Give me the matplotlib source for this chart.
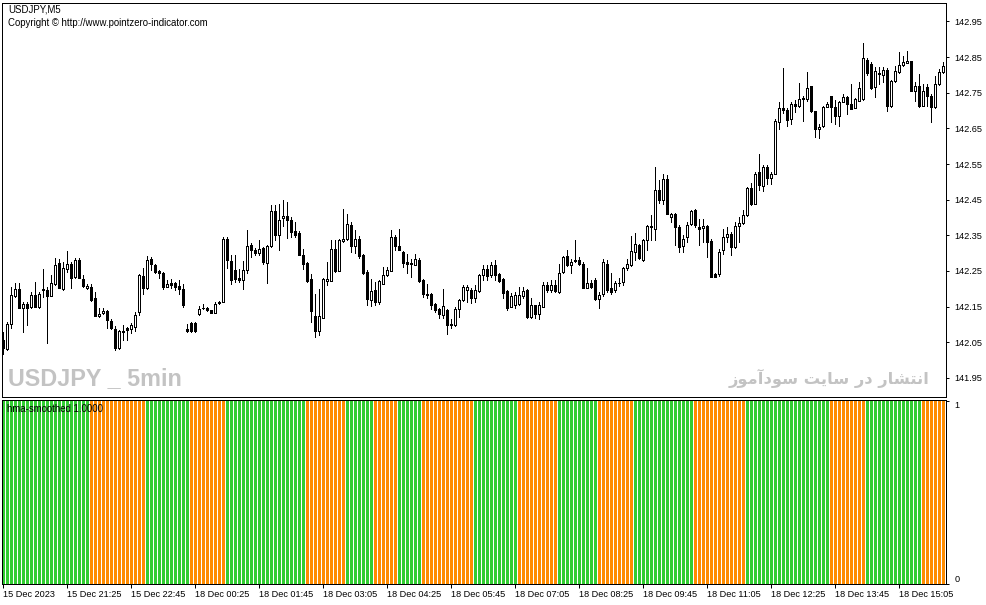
import numpy as np
import matplotlib
matplotlib.use("Agg")
import matplotlib.pyplot as plt

# ---------------- data ----------------
opens = [
 142.056,142.031,142.101,142.181,142.200,142.147,142.158,142.149,142.184,142.149,
 142.198,142.198,142.181,142.213,142.272,142.199,142.255,142.270,142.234,142.282,
 142.228,142.203,142.206,142.174,142.123,142.131,142.137,142.109,142.088,142.034,
 142.080,142.090,142.087,142.094,142.136,142.235,142.203,142.283,142.266,142.249,
 142.244,142.206,142.216,142.216,142.209,142.200,142.088,142.105,142.105,142.128,
 142.146,142.147,142.140,142.133,142.161,142.164,142.340,142.277,142.252,142.230,
 142.226,142.254,142.322,142.310,142.300,142.315,142.273,142.319,142.417,142.350,
 142.400,142.403,142.394,142.361,142.357,142.296,142.273,142.228,142.123,142.083,
 142.119,142.223,142.223,142.312,142.251,142.333,142.340,142.378,142.321,142.340,
 142.294,142.248,142.170,142.196,142.164,142.214,142.238,142.251,142.346,142.319,
 142.304,142.276,142.269,142.267,142.282,142.224,142.186,142.185,142.157,142.142,
 142.126,142.140,142.099,142.098,142.142,142.168,142.198,142.196,142.174,142.193,
 142.240,142.256,142.240,142.268,142.242,142.227,142.193,142.150,142.154,142.157,
 142.181,142.196,142.122,142.154,142.128,142.150,142.212,142.196,142.210,142.192,
 142.246,142.291,142.268,142.282,142.282,142.271,142.203,142.215,142.224,142.171,
 142.185,142.269,142.202,142.196,142.216,142.220,142.257,142.266,142.303,142.322,
 142.280,142.336,142.373,142.369,142.478,142.450,142.509,142.401,142.411,142.373,
 142.319,142.344,142.381,142.422,142.373,142.371,142.375,142.334,142.241,142.241,
 142.310,142.345,142.355,142.316,142.375,142.385,142.406,142.484,142.439,142.528,
 142.487,142.543,142.512,142.523,142.668,142.708,142.702,142.677,142.717,142.714,
 142.733,142.733,142.768,142.698,142.649,142.658,142.711,142.740,142.710,142.684,
 142.724,142.738,142.719,142.707,142.728,142.731,142.843,142.831,142.766,142.806,
 142.800,142.815,142.712,142.784,142.808,142.828,142.834,142.838,142.756,142.770,
 142.714,142.766,142.742,142.710,142.775,142.808]
highs = [
 142.078,142.106,142.205,142.216,142.216,142.163,142.163,142.191,142.219,142.191,
 142.255,142.205,142.238,142.286,142.283,142.276,142.305,142.275,142.286,142.286,
 142.238,142.213,142.213,142.192,142.147,142.147,142.140,142.115,142.095,142.084,
 142.099,142.094,142.104,142.135,142.241,142.258,142.291,142.290,142.270,142.252,
 142.248,142.224,142.228,142.219,142.224,142.214,142.102,142.106,142.106,142.153,
 142.157,142.150,142.141,142.164,142.165,142.345,142.345,142.294,142.294,142.256,
 142.277,142.364,142.329,142.314,142.338,142.318,142.322,142.434,142.434,142.438,
 142.448,142.444,142.402,142.388,142.361,142.312,142.274,142.242,142.185,142.200,
 142.230,142.276,142.336,142.336,142.339,142.423,142.410,142.388,142.364,142.347,
 142.297,142.252,142.228,142.220,142.224,142.262,142.262,142.364,142.350,142.368,
 142.305,142.298,142.284,142.298,142.286,142.227,142.214,142.188,142.160,142.146,
 142.200,142.143,142.116,142.149,142.171,142.210,142.210,142.201,142.210,142.241,
 142.266,142.266,142.276,142.280,142.244,142.230,142.196,142.187,142.192,142.206,
 142.206,142.199,142.173,142.156,142.164,142.218,142.220,142.224,142.224,142.271,
 142.292,142.308,142.285,142.336,142.289,142.275,142.257,142.224,142.229,142.191,
 142.285,142.280,142.244,142.221,142.229,142.262,142.283,142.347,142.357,142.327,
 142.341,142.378,142.406,142.542,142.504,142.521,142.518,142.414,142.414,142.378,
 142.350,142.387,142.422,142.424,142.397,142.397,142.378,142.341,142.243,142.311,
 142.369,142.373,142.358,142.387,142.401,142.420,142.486,142.497,142.527,142.577,
 142.546,142.546,142.528,142.675,142.724,142.820,142.706,142.723,142.730,142.777,
 142.740,142.808,142.770,142.700,142.661,142.714,142.723,142.742,142.730,142.728,
 142.747,142.742,142.775,142.734,142.780,142.890,142.846,142.836,142.822,142.822,
 142.822,142.818,142.787,142.826,142.864,142.852,142.868,142.839,142.780,142.803,
 142.775,142.775,142.745,142.798,142.817,142.836]
lows = [
 142.017,142.028,142.090,142.177,142.146,142.080,142.098,142.146,142.149,142.146,
 142.177,142.048,142.179,142.210,142.202,142.196,142.248,142.202,142.230,142.230,
 142.205,142.199,142.165,142.123,142.121,142.129,142.090,142.087,142.028,142.031,
 142.056,142.056,142.076,142.083,142.126,142.185,142.200,142.252,142.244,142.230,
 142.199,142.205,142.202,142.196,142.185,142.150,142.080,142.080,142.080,142.126,
 142.143,142.137,142.132,142.132,142.158,142.163,142.258,142.213,142.220,142.219,
 142.199,142.244,142.290,142.294,142.294,142.269,142.216,142.317,142.336,142.308,
 142.375,142.342,142.346,142.346,142.294,142.256,142.219,142.108,142.066,142.070,
 142.118,142.210,142.221,142.247,142.249,142.331,142.336,142.304,142.300,142.287,
 142.241,142.154,142.151,142.154,142.158,142.213,142.235,142.249,142.310,142.308,
 142.262,142.244,142.234,142.266,142.219,142.177,142.174,142.144,142.136,142.118,
 142.118,142.073,142.090,142.097,142.122,142.165,142.164,142.159,142.164,142.192,
 142.224,142.224,142.234,142.224,142.219,142.174,142.140,142.149,142.147,142.155,
 142.174,142.117,142.117,142.117,142.114,142.149,142.191,142.191,142.191,142.187,
 142.243,142.264,142.243,142.275,142.268,142.202,142.202,142.202,142.170,142.145,
 142.179,142.191,142.185,142.191,142.209,142.210,142.252,142.263,142.280,142.284,
 142.278,142.310,142.336,142.336,142.441,142.439,142.409,142.387,142.322,142.304,
 142.304,142.331,142.378,142.373,142.322,142.331,142.289,142.232,142.232,142.235,
 142.299,142.331,142.294,142.314,142.331,142.382,142.405,142.434,142.437,142.478,
 142.474,142.493,142.493,142.521,142.649,142.692,142.658,142.663,142.696,142.711,
 142.672,142.728,142.696,142.626,142.624,142.655,142.709,142.668,142.663,142.658,
 142.723,142.691,142.703,142.706,142.727,142.730,142.800,142.761,142.738,142.775,
 142.780,142.700,142.710,142.781,142.805,142.826,142.832,142.754,142.728,142.711,
 142.712,142.712,142.668,142.707,142.773,142.805]
closes = [
 142.034,142.101,142.182,142.200,142.147,142.158,142.147,142.184,142.150,142.186,
 142.199,142.181,142.217,142.268,142.203,142.258,142.270,142.230,142.282,142.231,
 142.209,142.207,142.168,142.125,142.130,142.137,142.112,142.091,142.035,142.081,
 142.081,142.084,142.098,142.126,142.238,142.203,142.280,142.270,142.248,142.245,
 142.206,142.214,142.210,142.205,142.199,142.156,142.081,142.081,142.081,142.143,
 142.147,142.140,142.133,142.158,142.163,142.340,142.280,142.224,142.228,142.224,
 142.254,142.319,142.310,142.300,142.312,142.276,142.319,142.417,142.350,142.394,
 142.403,142.392,142.360,142.350,142.296,142.270,142.223,142.139,142.083,142.123,
 142.228,142.228,142.312,142.251,142.336,142.340,142.382,142.321,142.340,142.291,
 142.243,142.172,142.193,142.164,142.223,142.238,142.254,142.346,142.319,142.310,
 142.273,142.270,142.273,142.284,142.223,142.185,142.182,142.154,142.140,142.130,
 142.151,142.098,142.101,142.144,142.168,142.205,142.205,142.173,142.196,142.240,
 142.256,142.237,142.268,142.240,142.221,142.188,142.147,142.180,142.182,142.184,
 142.193,142.122,142.156,142.128,142.154,142.212,142.196,142.210,142.193,142.243,
 142.288,142.268,142.275,142.277,142.271,142.203,142.215,142.205,142.171,142.184,
 142.275,142.196,142.191,142.217,142.217,142.257,142.269,142.306,142.325,142.287,
 142.338,142.375,142.375,142.478,142.448,142.509,142.411,142.411,142.372,142.317,
 142.341,142.380,142.418,142.378,142.369,142.375,142.331,142.233,142.233,142.303,
 142.345,142.355,142.316,142.375,142.385,142.406,142.484,142.439,142.523,142.490,
 142.543,142.512,142.523,142.672,142.708,142.702,142.674,142.717,142.714,142.733,
 142.734,142.764,142.698,142.649,142.655,142.711,142.719,142.710,142.686,142.725,
 142.738,142.719,142.705,142.731,142.763,142.848,142.806,142.763,142.810,142.803,
 142.815,142.712,142.784,142.810,142.828,142.836,142.838,142.756,142.770,142.714,
 142.754,142.740,142.710,142.775,142.808,142.826]

# hma-smoothed direction per bar: G = rising (green), O = falling (orange)
hma_trend = (
    "GGGGG" "GGGGG" "GGGGG" "GGGGG" "GG"            # 22
    "OOOOO" "OOOOO" "OOOO"                          # 14
    "GGGGG" "GGGGG" "G"                             # 11
    "OOOOO" "OOOO"                                  # 9
    "GGGGG" "GGGGG" "GGGGG" "GGGGG"                 # 20
    "OOOOO" "OOOOO"                                 # 10
    "GGGGG" "GG"                                    # 7
    "OOOOO" "O"                                     # 6
    "GGGGG" "G"                                     # 6
    "OOOOO" "OOOOO" "OOO"                           # 13
    "GGGGG" "GGGGG" "G"                             # 11
    "OOOOO" "OOOOO"                                 # 10
    "GGGGG" "GGGGG"                                 # 10
    "OOOOO" "OOOO"                                  # 9
    "GGGGG" "GGGGG" "GGGGG"                         # 15
    "OOOOO" "OOOOO" "OOO"                           # 13
    "GGGGG" "GGGGG" "GGGGG" "GGGGG" "G"             # 21
    "OOOOO" "OOOO"                                  # 9
    "GGGGG" "GGGGG" "GGGG"                          # 14
    "OOOOO" "O"                                     # 6
)
hma_level = 1.0

price_ticks = [141.95, 142.05, 142.15, 142.25, 142.35, 142.45, 142.55,
               142.65, 142.75, 142.85, 142.95]
time_labels = ["15 Dec 2023", "15 Dec 21:25", "15 Dec 22:45", "18 Dec 00:25",
               "18 Dec 01:45", "18 Dec 03:05", "18 Dec 04:25", "18 Dec 05:45",
               "18 Dec 07:05", "18 Dec 08:25", "18 Dec 09:45", "18 Dec 11:05",
               "18 Dec 12:25", "18 Dec 13:45", "18 Dec 15:05"]
time_label_bars = [0, 16, 32, 48, 64, 80, 96, 112, 128, 144, 160, 176, 192, 208, 224]

# ---------------- figure ----------------
W, H = 987, 605
fig = plt.figure(figsize=(W / 100, H / 100), dpi=100)
fig.patch.set_facecolor("white")

def rect(x0, y0, x1, y1):
    return [x0 / W, 1 - y1 / H, (x1 - x0) / W, (y1 - y0) / H]

FONT = ["Liberation Sans", "DejaVu Sans"]
FS = 6.6
FS_HEAD = 6.9
PX = 0.72  # one pixel in points

ax = fig.add_axes(rect(2.5, 2.5, 946.5, 396.5))
ax2 = fig.add_axes(rect(2.5, 399.5, 946.5, 583.5), sharex=ax)

O = np.array(opens); Hh = np.array(highs); L = np.array(lows); C = np.array(closes)
n = len(O)
x = np.arange(n)

ax.vlines(x, L, Hh, color="black", linewidth=PX, antialiased=False, zorder=2)
up = C >= O
ax.bar(x, np.abs(C - O), bottom=np.minimum(O, C), width=0.5,
       color=np.where(up, "white", "black"), edgecolor="black",
       linewidth=PX, antialiased=False, zorder=3)

ax.set_xlim(-0.25, 235.75)
ax.set_ylim(141.898, 143.003)
ax.yaxis.tick_right()
ax.set_yticks(price_ticks)
ax.set_yticklabels([f"{v:.2f}" for v in price_ticks], fontfamily=FONT, fontsize=FS)
ax.tick_params(axis="y", direction="out", length=2.5, width=PX, pad=3,
               colors="black")
ax.tick_params(axis="x", which="both", bottom=False, labelbottom=False)
for s in ax.spines.values():
    s.set_linewidth(PX)
    s.set_color("black")

colors = ["#32CD32" if t == "G" else "#FF8C00" for t in hma_trend]
ax2.bar(x, [hma_level] * n, width=0.75, bottom=0, color=colors, linewidth=0,
        antialiased=False)
ax2.set_ylim(0, 1.01)
ax2.yaxis.tick_right()
ax2.set_yticks([0, 1])
ax2.set_yticklabels(["0", "1"], fontfamily=FONT, fontsize=FS)
labs = ax2.get_yticklabels()
labs[0].set_va("bottom")
labs[1].set_va("top")
ax2.tick_params(axis="y", direction="out", length=2.5, width=PX, pad=3)
ax2.set_xticks(time_label_bars)
ax2.set_xticklabels(time_labels, fontfamily=FONT, fontsize=FS, ha="left")
ax2.tick_params(axis="x", direction="out", length=3, width=PX, pad=2)
for s in ax2.spines.values():
    s.set_linewidth(PX)
    s.set_color("black")

# header texts
fig.text(8 / W, 1 - 10 / H, "USDJPY,M5", fontfamily=FONT, fontsize=FS_HEAD,
         va="center", ha="left")
fig.text(8 / W, 1 - 23 / H, "Copyright \u00a9 http://www.pointzero-indicator.com",
         fontfamily=FONT, fontsize=FS_HEAD, va="center", ha="left")
fig.text(7 / W, 1 - 408.5 / H, "hma-smoothed 1.0000", fontfamily=FONT,
         fontsize=FS_HEAD, va="center", ha="left")

# watermarks
fig.text(8 / W, 1 - 379 / H, "USDJPY _ 5min",
         fontfamily=["Liberation Sans", "DejaVu Sans"],
         fontweight="bold", fontsize=16.8, color="#C3C3C3", va="center", ha="left")
# "انتشار در سایت سودآموز" written in Arabic presentation forms, visual order
persian = ("\uFEAF\uFEEE\uFEE3\uFE81\uFEA9\uFEEE\uFEB3" " "
           "\uFE96\uFBFE\uFE8E\uFEB3" " "
           "\uFEAD\uFEA9" " "
           "\uFEAD\uFE8E\uFEB8\uFE98\uFEE7\uFE8D")
fig.text(930 / W, 1 - 378 / H, persian, fontfamily=["DejaVu Sans"],
         fontweight="bold", fontsize=11.7, color="#C3C3C3", va="center", ha="right")

fig.savefig("out.png", dpi=100, facecolor="white")
